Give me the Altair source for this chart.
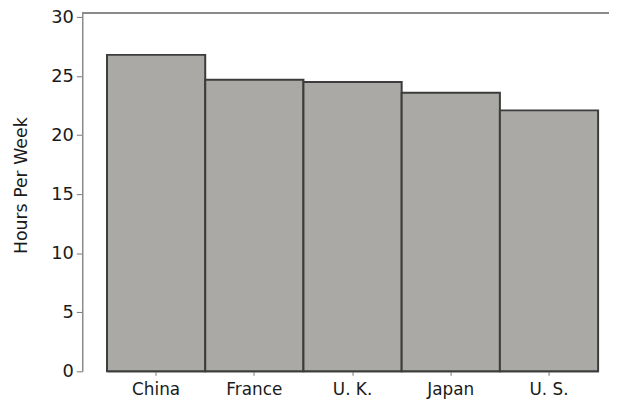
import altair as alt
import pandas as pd

countries = ["China", "France", "U. K.", "Japan", "U. S."]
hours = [26.8, 24.7, 24.5, 23.6, 22.1]
y_ticks = [0, 5, 10, 15, 20, 25, 30]

df = pd.DataFrame({"country": countries, "hours": hours})

W = 532
H = 362

bars = alt.Chart(df).mark_bar(
    color="#aaa9a5", stroke="#3c3c3c", strokeWidth=2
).encode(
    x=alt.X("country:N", sort=countries,
            scale=alt.Scale(range=[25, 521], paddingInner=0, paddingOuter=0),
            axis=alt.Axis(title=None, labelAngle=0, labelFont="DejaVu Sans",
                          labelFontSize=17, labelColor="#1a1a1a", labelPadding=6,
                          tickSize=4, tickColor="#777777", domainColor="#8a8a8a",
                          domainWidth=1.5)),
    y=alt.Y("hours:Q",
            scale=alt.Scale(domain=[0, 30.35], nice=False, zero=True),
            axis=alt.Axis(title="Hours Per Week", values=y_ticks, grid=False,
                          labelFont="DejaVu Sans", labelFontSize=18,
                          labelColor="#1a1a1a", labelPadding=3,
                          tickSize=6, tickColor="#777777", domainColor="#8a8a8a",
                          domainWidth=1.5,
                          titleFont="DejaVu Sans", titleFontSize=17.5,
                          titleFontWeight="normal", titleColor="#1a1a1a",
                          titleAngle=-90, titleX=-61, titleY=174,
                          titleAlign="center", titleBaseline="middle")),
)

top = alt.Chart(df).mark_rule(color="#8a8a8a", strokeWidth=2).encode(
    x=alt.value(0), x2=alt.value(W), y=alt.value(0)
)

chart = alt.layer(bars, top).properties(
    width=W, height=H,
    padding={"left": 75, "top": 3, "right": 0, "bottom": 34},
    autosize=alt.AutoSizeParams(type="none"),
).configure_view(stroke=None)

chart.save("out.html", embed_options={"renderer": "svg", "actions": False})
